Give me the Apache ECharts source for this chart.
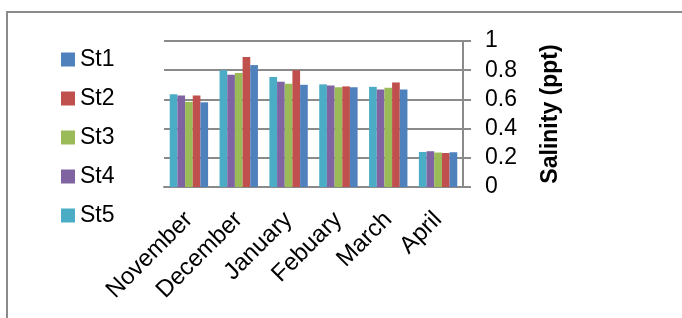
<!DOCTYPE html>
<html>
<head>
<meta charset="utf-8">
<script src="https://cdn.jsdelivr.net/npm/echarts@6/dist/echarts.min.js"></script>
<style>
html,body{margin:0;padding:0;background:#fff;}
#chart{width:682px;height:318px;}
</style>
</head>
<body>
<div id="chart"></div>
<script>
const categories = ['November','December','January','Febuary','March','April'];
const st1 = [0.58, 0.835, 0.70, 0.684, 0.668, 0.238];
const st2 = [0.627, 0.89, 0.80, 0.689, 0.716, 0.233];
const st3 = [0.583, 0.78, 0.707, 0.684, 0.68, 0.236];
const st4 = [0.627, 0.769, 0.721, 0.696, 0.668, 0.245];
const st5 = [0.636, 0.80, 0.753, 0.703, 0.686, 0.24];
const seriesNames = ['St1','St2','St3','St4','St5'];
const yTicks = {min: 0, max: 1, interval: 0.2};
const yTitle = 'Salinity (ppt)';

const colors = {St1:'#4F81BD', St2:'#C0504D', St3:'#9BBB59', St4:'#8064A2', St5:'#4BACC6'};
const dataByName = {St1: st1, St2: st2, St3: st3, St4: st4, St5: st5};
const FONT = '"Liberation Sans", Arial, sans-serif';

const chart = echarts.init(document.getElementById('chart'), null, {renderer:'canvas'});
// Reference draws St5 leftmost through St1 rightmost within each group
const drawOrder = ['St5','St4','St3','St2','St1'];
chart.setOption({
  animation: false,
  textStyle: {fontFamily: FONT},
  graphic: [
    {type:'line', shape:{x1:6, y1:12, x2:682, y2:12}, style:{stroke:'#8a8a8a', lineWidth:2}},
    {type:'line', shape:{x1:7, y1:11, x2:7, y2:318}, style:{stroke:'#8a8a8a', lineWidth:2}}
  ],
  legend: {
    data: seriesNames,
    orient: 'vertical',
    left: 56,
    top: 43,
    itemWidth: 14,
    itemHeight: 14,
    itemGap: 16,
    icon: 'rect',
    textStyle: {fontFamily: FONT, fontSize: 23, color: '#000', lineHeight: 23, padding: [0,0,0,0]},
    selectedMode: false
  },
  grid: {left: 164, right: 219, top: 41, bottom: 131, containLabel: false},
  xAxis: {
    type: 'category',
    data: categories,
    axisLine: {show: true, lineStyle: {color: '#8a8a8a', width: 2}},
    axisTick: {show: false},
    axisLabel: {rotate: 45, fontSize: 24, color: '#000', fontFamily: FONT, margin: 29, interval: 0}
  },
  yAxis: {
    type: 'value',
    position: 'right',
    min: yTicks.min, max: yTicks.max, interval: yTicks.interval,
    name: yTitle,
    nameLocation: 'middle',
    nameRotate: 90,
    nameGap: 76,
    nameTextStyle: {fontSize: 23, fontWeight: 'bold', color: '#000', fontFamily: FONT},
    axisLine: {show: true, lineStyle: {color: '#8a8a8a', width: 2}},
    axisTick: {show: true, inside: false, length: 8, lineStyle: {color: '#8a8a8a', width: 2}},
    axisLabel: {fontSize: 23, color: '#000', fontFamily: FONT, margin: 22,
      formatter: v => String(+v.toFixed(1))},
    splitLine: {show: true, lineStyle: {color: '#8a8a8a', width: 2}}
  },
  series: drawOrder.map(n => ({
    name: n,
    type: 'bar',
    data: dataByName[n],
    itemStyle: {color: colors[n]},
    barGap: '0%',
    barCategoryGap: '23%'
  }))
});
</script>
</body>
</html>
